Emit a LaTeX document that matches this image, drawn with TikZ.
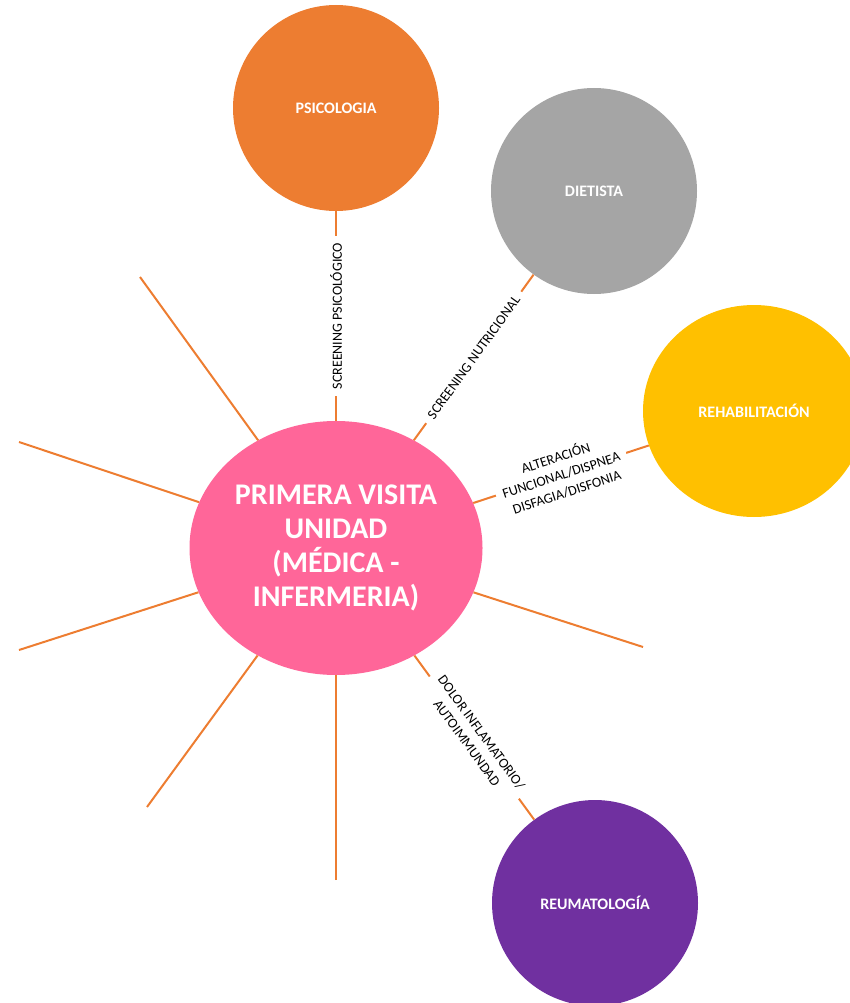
\documentclass[tikz,border=0pt]{standalone}
\usepackage{fontspec}
\setmainfont{Carlito}
\usetikzlibrary{shapes.geometric}
\definecolor{lineor}{HTML}{ED7D31}
\definecolor{psicol}{HTML}{ED7D31}
\definecolor{dietcol}{HTML}{A5A5A5}
\definecolor{rehabcol}{HTML}{FFC000}
\definecolor{reumacol}{HTML}{7030A0}
\definecolor{cencol}{HTML}{FF6699}
\begin{document}
\begin{tikzpicture}[x=1pt,y=-1pt,
  bub/.style={circle, draw=none, text=white, font=\bfseries\fontsize{16}{19}\selectfont, inner sep=0pt},
  spoke/.style={draw=lineor, line width=2pt},
  lbl/.style={fill=white, text=black, font=\fontsize{14}{18}\selectfont, align=center, inner xsep=7pt, inner ysep=2pt, midway, sloped}]
\useasboundingbox (0,0) rectangle (849,1003);
\node[bub, fill=psicol, minimum size=206pt] (psic) at (336,108) {PSICOLOGIA};
\node[bub, fill=dietcol, minimum size=206pt] (diet) at (594,191) {DIETISTA};
\node[bub, ellipse, fill=rehabcol, minimum width=222pt, minimum height=212pt] (rehab) at (754,411) {REHABILITACIÓN};
\node[bub, fill=reumacol, minimum size=206pt] (reuma) at (595,903) {REUMATOLOGÍA};
\node[ellipse, fill=cencol, text=white, minimum width=293pt, minimum height=254pt, inner sep=0pt, align=center,
  font=\bfseries\fontsize{30}{34}\selectfont] (cen) at (336,548) {PRIMERA VISITA\\UNIDAD\\(MÉDICA -\\INFERMERIA)};

\coordinate (s1) at (140,277);
\coordinate (s2) at (19,442);
\coordinate (s3) at (19,650);
\coordinate (s4) at (147,807);
\coordinate (s5) at (336,880);
\coordinate (s6) at (643,647);
\foreach \s in {s1,s2,s3,s4,s5,s6} \draw[spoke] (\s) -- (cen);

\draw[spoke] (cen) -- node[lbl] {SCREENING PSICOLÓGICO} (psic);
\draw[spoke] (cen) -- node[lbl] {SCREENING NUTRICIONAL} (diet);
\draw[spoke] (cen) -- node[lbl] {ALTERACIÓN\\FUNCIONAL/DISPNEA\\DISFAGIA/DISFONIA} (rehab);
\draw[spoke] (cen) -- node[lbl] {DOLOR INFLAMATORIO/\\AUTOIMMUNDAD} (reuma);
\end{tikzpicture}
\end{document}
